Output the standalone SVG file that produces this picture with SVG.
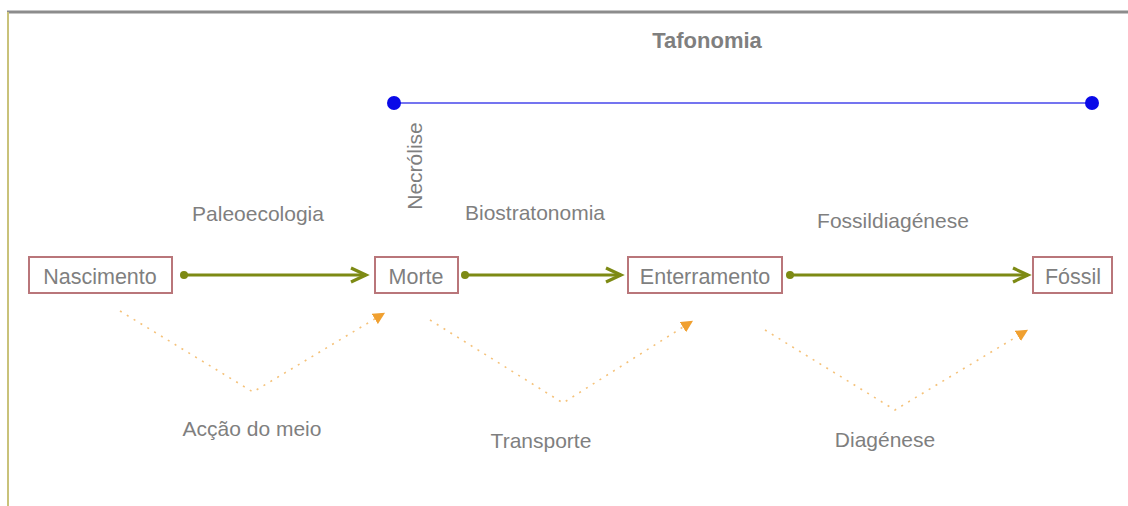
<svg xmlns="http://www.w3.org/2000/svg" width="1128" height="506" viewBox="0 0 1128 506">
<defs>
<style>
text{font-family:"Liberation Sans",Arial,sans-serif;fill:#7f7f7f;font-size:21px}
.t{font-weight:bold;font-size:22px}
.node rect{fill:#fff;stroke:#b9767a;stroke-width:2}
.node text{font-size:21.5px}
.flow{stroke:#7d8a14;stroke-width:3;fill:none}
.dot{stroke:#f5c27a;stroke-width:1.6;fill:none;stroke-dasharray:2 6}
</style>
<marker id="chev" markerWidth="20" markerHeight="20" refX="16" refY="8" orient="auto" markerUnits="userSpaceOnUse" viewBox="0 0 20 16">
<path d="M1,1 L16,8 L1,15" fill="none" stroke="#7d8a14" stroke-width="3.2"/>
</marker>
<marker id="start" markerWidth="10" markerHeight="10" refX="5" refY="5" markerUnits="userSpaceOnUse" viewBox="0 0 10 10">
<circle cx="5" cy="5" r="4" fill="#7d8a14"/>
</marker>
<marker id="tri" markerWidth="12" markerHeight="12" refX="8" refY="5" orient="auto" markerUnits="userSpaceOnUse" viewBox="0 0 10 10">
<path d="M0,0 L10,5 L0,10 Z" fill="#f0a030"/>
</marker>
</defs>
<rect x="0" y="0" width="1128" height="506" fill="#fff"/>
<line x1="7" y1="12" x2="1128" y2="12" stroke="#8c8c8c" stroke-width="3"/>
<line x1="8" y1="12" x2="8" y2="506" stroke="#c9c27a" stroke-width="2"/>

<g id="tafonomia">
<line x1="394" y1="103" x2="1092" y2="103" stroke="#7474f0" stroke-width="2"/>
<circle cx="394" cy="103" r="7" fill="#0a0ae8"/>
<circle cx="1092" cy="103" r="7" fill="#0a0ae8"/>
<text class="t" x="707" y="48" text-anchor="middle">Tafonomia</text>
</g>

<g id="connectors">
<line class="flow" x1="184" y1="275" x2="366" y2="275" marker-start="url(#start)" marker-end="url(#chev)"/>
<line class="flow" x1="465" y1="275" x2="621" y2="275" marker-start="url(#start)" marker-end="url(#chev)"/>
<line class="flow" x1="790" y1="275" x2="1028" y2="275" marker-start="url(#start)" marker-end="url(#chev)"/>
<polyline class="dot" points="120,311 253,392 383,314" marker-end="url(#tri)"/>
<polyline class="dot" points="430,320 563,403 691,322" marker-end="url(#tri)"/>
<polyline class="dot" points="765,330 895,410 1026,331" marker-end="url(#tri)"/>
</g>

<g id="nascimento" class="node">
<rect x="29" y="257" width="143" height="36"/>
<text x="100" y="284" text-anchor="middle">Nascimento</text>
</g>
<g id="morte" class="node">
<rect x="375" y="257" width="83" height="36"/>
<text x="416" y="284" text-anchor="middle">Morte</text>
</g>
<g id="enterramento" class="node">
<rect x="628" y="257" width="154" height="36"/>
<text x="705" y="284" text-anchor="middle">Enterramento</text>
</g>
<g id="fossil" class="node">
<rect x="1033" y="257" width="79" height="36"/>
<text x="1073" y="284" text-anchor="middle">Fóssil</text>
</g>

<g id="labels">
<text x="258" y="221" text-anchor="middle">Paleoecologia</text>
<text x="535" y="220" text-anchor="middle">Biostratonomia</text>
<text x="893" y="228" text-anchor="middle">Fossildiagénese</text>
<text transform="translate(422,166) rotate(-90)" text-anchor="middle">Necrólise</text>
<text x="252" y="436" text-anchor="middle">Acção do meio</text>
<text x="541" y="448" text-anchor="middle">Transporte</text>
<text x="885" y="447" text-anchor="middle">Diagénese</text>
</g>
</svg>
